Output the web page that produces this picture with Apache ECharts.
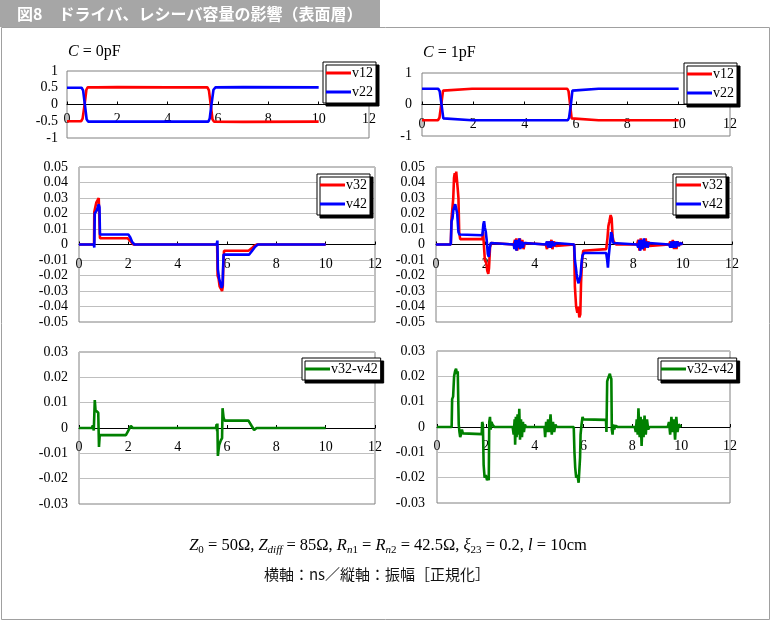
<!DOCTYPE html>
<html><head><meta charset="utf-8">
<script src="https://cdn.jsdelivr.net/npm/echarts@6/dist/echarts.min.js"></script>
<style>html,body{margin:0;padding:0;background:#fff}#c{width:774px;height:621px}</style>
</head><body><div id="c"></div>
<script>
// ---- data (time ns, normalized amplitude) ----
const xTicks = [0, 2, 4, 6, 8, 10, 12];
const c0_v12 = [[0,-0.5],[0.56,-0.5],[0.62,-0.42],[0.7,0],[0.77,0.44],[0.82,0.51],[1.2,0.51],[2,0.52],[4,0.51],[5.58,0.51],[5.64,0.42],[5.71,0],[5.78,-0.44],[5.84,-0.51],[7,-0.52],[10,-0.51]];
const c0_v22 = [[0,0.5],[0.58,0.5],[0.64,0.42],[0.71,0],[0.78,-0.44],[0.84,-0.51],[2,-0.51],[4,-0.51],[5.62,-0.51],[5.67,-0.42],[5.74,0],[5.82,0.44],[5.9,0.51],[7,0.52],[10,0.51]];
const c1_v12 = [[0,-0.5],[0.62,-0.5],[0.68,-0.42],[0.75,0],[0.82,0.44],[0.88,0.5],[1.95,0.5],[2.0,0.53],[2.08,0.5],[5.66,0.5],[5.71,0.42],[5.77,0],[5.83,-0.44],[5.88,-0.5],[6.88,-0.5],[6.95,-0.48],[7.02,-0.5],[10,-0.5]];
const c1_v22 = [[0,0.5],[0.63,0.5],[0.69,0.42],[0.76,0],[0.83,-0.44],[0.9,-0.5],[1.95,-0.5],[2.0,-0.47],[2.08,-0.5],[5.68,-0.5],[5.73,-0.42],[5.8,0],[5.86,0.44],[5.92,0.5],[6.88,0.5],[6.95,0.53],[7.02,0.5],[10,0.5]];

const c0_v32 = [[0,0],[0.61,0],[0.62,0.021],[0.66,0.024],[0.7,0.027],[0.74,0.028],[0.78,0.028],[0.8,0.03],[0.83,0.029],[0.85,0.004],[1.98,0.004],[2.05,0.003],[2.12,0.0015],[2.2,0],[5.6,0],[5.62,-0.02],[5.66,-0.022],[5.7,-0.027],[5.75,-0.028],[5.8,-0.03],[5.83,-0.027],[5.85,-0.013],[5.88,-0.004],[6.87,-0.004],[7.0,-0.0025],[7.1,-0.001],[7.2,0],[10,0]];
const c0_v42 = [[0,0],[0.6,0],[0.62,-0.002],[0.64,0.02],[0.68,0.021],[0.72,0.022],[0.76,0.024],[0.8,0.026],[0.83,0.024],[0.85,0.0065],[2.0,0.0065],[2.08,0.0045],[2.16,0.0015],[2.25,0],[5.58,0],[5.61,0.0025],[5.63,-0.016],[5.68,-0.022],[5.73,-0.025],[5.78,-0.028],[5.82,-0.026],[5.86,-0.0065],[6.9,-0.0065],[7.02,-0.004],[7.14,-0.0015],[7.25,0],[10,0]];
const c0_d = [[0,0],[0.52,0],[0.56,0.001],[0.6,-0.001],[0.64,0.011],[0.67,0.007],[0.72,0.0065],[0.78,0.006],[0.81,-0.0075],[0.84,-0.0028],[1.9,-0.0028],[2.0,-0.001],[2.1,0.0008],[2.18,0],[5.55,0],[5.58,0.0015],[5.6,-0.0012],[5.61,0.0018],[5.63,-0.011],[5.68,-0.0068],[5.75,-0.0049],[5.8,-0.004],[5.82,0.0078],[5.86,0.0042],[5.9,0.0029],[6.87,0.0029],[7.0,0.0008],[7.1,-0.0008],[7.2,0],[10,0]];

const c1_v32 = [[0,0],[0.6,0],[0.63,0.017],[0.67,0.018],[0.7,0.03],[0.73,0.043],[0.76,0.046],[0.79,0.04],[0.82,0.047],[0.85,0.046],[0.88,0.036],[0.91,0.03],[0.94,0.008],[0.98,0.0035],[1.88,0.0035],[1.91,0.008],[1.94,0.0],[1.98,-0.01],[2.04,-0.012],[2.08,-0.017],[2.12,-0.019],[2.15,-0.015],[2.19,-0.002],[2.23,0.001],[2.3,0],[3.15,0],[3.2,0.003],[3.23,-0.003],[3.26,0.004],[3.29,-0.004],[3.33,0.002],[3.36,-0.003],[3.4,0.004],[3.45,-0.002],[3.5,0.003],[3.55,-0.003],[3.6,0.001],[3.65,0],[4.45,0],[4.5,-0.003],[4.55,0.002],[4.62,-0.002],[4.68,0.003],[4.72,-0.003],[4.78,0.002],[4.85,-0.001],[4.92,0],[5.6,0],[5.63,-0.027],[5.68,-0.04],[5.73,-0.044],[5.77,-0.04],[5.81,-0.047],[5.85,-0.045],[5.88,-0.025],[5.92,-0.01],[5.97,-0.004],[6.0,-0.003],[6.9,-0.003],[6.95,0.004],[6.99,0.012],[7.03,0.015],[7.08,0.019],[7.12,0.017],[7.16,0.005],[7.2,0.002],[7.3,0],[8.15,0],[8.2,0.003],[8.25,-0.004],[8.3,0.004],[8.35,-0.003],[8.4,0.003],[8.45,-0.004],[8.5,0.004],[8.55,-0.002],[8.6,0.002],[8.65,-0.001],[8.7,0],[9.45,0],[9.5,0.002],[9.55,-0.002],[9.6,0.003],[9.65,-0.003],[9.7,0.002],[9.75,-0.003],[9.8,0.002],[9.85,-0.001],[9.9,0.001],[10,0]];
const c1_v42 = [[0,0],[0.6,0],[0.63,0.015],[0.67,0.017],[0.7,0.022],[0.74,0.024],[0.78,0.026],[0.82,0.025],[0.86,0.02],[0.88,0.015],[0.91,0.008],[0.95,0.0065],[1.0,0.006],[1.88,0.006],[1.92,0.013],[1.95,0.015],[1.98,0.011],[2.02,0.008],[2.06,0.002],[2.1,-0.006],[2.14,-0.008],[2.18,-0.002],[2.22,0.001],[2.3,0],[3.15,0],[3.18,-0.003],[3.22,0.003],[3.26,-0.004],[3.3,0.003],[3.34,-0.002],[3.38,0.004],[3.42,-0.003],[3.47,0.002],[3.52,-0.002],[3.57,0.001],[3.62,0],[4.45,0],[4.5,0.002],[4.55,-0.002],[4.6,0.002],[4.66,-0.002],[4.72,0.002],[4.78,-0.001],[4.85,0.001],[4.9,0],[5.6,0],[5.63,-0.01],[5.67,-0.015],[5.7,-0.019],[5.74,-0.023],[5.78,-0.025],[5.82,-0.024],[5.86,-0.02],[5.9,-0.012],[5.94,-0.007],[6.0,-0.0055],[6.9,-0.0055],[6.94,-0.01],[6.97,-0.015],[7.0,-0.008],[7.05,0],[7.1,0.008],[7.14,0.006],[7.18,0.001],[7.25,0],[8.15,0],[8.2,-0.002],[8.24,0.003],[8.28,-0.004],[8.33,0.003],[8.38,-0.003],[8.43,0.004],[8.48,-0.002],[8.53,0.002],[8.58,-0.002],[8.63,0.001],[8.7,0],[9.45,0],[9.5,-0.002],[9.55,0.002],[9.6,-0.002],[9.66,0.002],[9.72,-0.002],[9.78,0.002],[9.84,-0.001],[9.9,0.001],[10,0]];
const c1_d = [[0,0],[0.6,0],[0.62,0.011],[0.66,0.012],[0.7,0.02],[0.74,0.022],[0.78,0.023],[0.82,0.021],[0.85,0.022],[0.87,0.011],[0.89,0.001],[0.92,-0.002],[0.95,-0.004],[0.98,-0.003],[1.02,-0.001],[1.06,-0.0025],[1.1,-0.0028],[1.83,-0.0028],[1.85,0.002],[1.88,0.001],[1.91,-0.015],[1.95,-0.02],[2.0,-0.019],[2.05,-0.021],[2.1,-0.02],[2.12,-0.021],[2.14,0.002],[2.17,0.004],[2.2,-0.001],[2.23,0.002],[2.27,0.001],[2.35,0],[3.1,0],[3.14,-0.003],[3.18,0.003],[3.2,-0.007],[3.23,0.004],[3.26,-0.004],[3.3,0.005],[3.34,-0.003],[3.37,0.0072],[3.4,-0.005],[3.44,0.003],[3.48,-0.004],[3.52,0.002],[3.56,-0.002],[3.6,0.001],[3.65,0],[4.4,0],[4.43,-0.004],[4.47,0.002],[4.5,-0.002],[4.55,0.003],[4.6,-0.002],[4.65,0.005],[4.7,-0.003],[4.75,0.002],[4.8,-0.002],[4.85,0.001],[4.9,0],[5.6,0],[5.63,-0.01],[5.66,-0.016],[5.7,-0.02],[5.75,-0.019],[5.8,-0.022],[5.84,-0.022],[5.86,-0.012],[5.88,-0.003],[5.92,0.001],[5.96,0.004],[6.0,0.003],[6.05,0.0028],[6.92,0.0028],[6.94,-0.002],[6.97,0.018],[7.0,0.019],[7.04,0.02],[7.08,0.021],[7.1,0.02],[7.14,0.019],[7.16,-0.001],[7.19,-0.003],[7.22,0.001],[7.26,-0.001],[7.3,0.0005],[7.4,0],[8.1,0],[8.14,-0.002],[8.18,0.003],[8.22,-0.003],[8.25,0.0074],[8.3,-0.004],[8.34,0.004],[8.38,-0.0075],[8.42,0.003],[8.46,-0.004],[8.5,0.0045],[8.55,-0.003],[8.6,0.003],[8.65,-0.001],[8.7,0],[9.45,0],[9.5,0.002],[9.55,-0.003],[9.6,0.004],[9.65,-0.002],[9.7,0.003],[9.75,-0.005],[9.8,0.004],[9.85,-0.002],[9.9,0.001],[10,0]];

const headerText = '図8\u3000ドライバ、レシーバ容量の影響（表面層）';
const captionText = '横軸：ns／縦軸：振幅［正規化］';

// ---- layout ----
const SERIF = '"Liberation Serif","Times New Roman",serif';
const grids = [
  {left:67, top:71, width:302, height:67},
  {left:422, top:73, width:308, height:63},
  {left:79, top:167, width:296, height:155},
  {left:436, top:167, width:296, height:155},
  {left:79, top:352, width:296, height:152},
  {left:437, top:351, width:293, height:152}
];
const yCfg = [
  {min:-1,max:1,interval:0.5,grid:false,m:9},
  {min:-1,max:1,interval:1,grid:false,m:10},
  {min:-0.05,max:0.05,interval:0.01,grid:true,m:11},
  {min:-0.05,max:0.05,interval:0.01,grid:true,m:11},
  {min:-0.03,max:0.03,interval:0.01,grid:true,m:11},
  {min:-0.03,max:0.03,interval:0.01,grid:true,m:12}
];
// x labels sit just under the zero line (offsets measured from plot bottom)
const xMargins = [-26, -19, -65, -65, -64, -64];

const chart = echarts.init(document.getElementById('c'), null, {renderer:'canvas'});

function mkSeries(name, data, idx, color){
  return {type:'line', name, data, xAxisIndex:idx, yAxisIndex:idx, symbol:'none', showSymbol:false,
    lineStyle:{width:2.6, color}, itemStyle:{color}, animation:false, silent:true, z:3};
}
function mkLegend(names, left, top){
  return {show:true, data:names.map(n => ({name:n, icon:'rect'})), left, top, orient:'vertical', selectedMode:false,
    itemWidth:25, itemHeight:3, itemGap:5, padding:[4,3,4,3],
    backgroundColor:'#fff', borderColor:'#000', borderWidth:1,
    shadowColor:'#000', shadowOffsetX:3, shadowOffsetY:3, shadowBlur:0,
    textStyle:{fontFamily:SERIF, fontSize:14, color:'#000', padding:[0,0,0,-4]}};
}

const option = {
  animation:false,
  backgroundColor:'#fff',
  grid: grids.map(g => Object.assign({show:true, borderColor:'#808080', borderWidth:1, backgroundColor:'transparent'}, g)),
  xAxis: grids.map((g,i) => ({type:'value', gridIndex:i, min:xTicks[0], max:xTicks[xTicks.length-1], interval:2,
    axisLine:{show:true, onZero:true, lineStyle:{color:'#000', width:1}},
    axisTick:{show:true, inside:true, length:3, lineStyle:{color:'#000'}},
    axisLabel:{fontFamily:SERIF, fontSize:14, color:'#000', margin:xMargins[i], showMinLabel:true, showMaxLabel:true, hideOverlap:false},
    splitLine:{show:false}})),
  yAxis: yCfg.map((c,i) => ({type:'value', gridIndex:i, min:c.min, max:c.max, interval:c.interval,
    axisLine:{show:false}, axisTick:{show:false},
    axisLabel:{fontFamily:SERIF, fontSize:14, color:'#000', margin:c.m},
    splitLine:{show:c.grid, lineStyle:{color:'#bfbfbf', width:1}}})),
  legend: [
    mkLegend(['v12','v22'], 323, 62),
    mkLegend(['v12','v22'], 684, 63),
    mkLegend(['v32','v42'], 317, 174),
    mkLegend(['v32','v42'], 673, 174),
    mkLegend(['v32-v42'], 302, 358),
    mkLegend(['v32-v42'], 658, 358)
  ],
  series: [
    mkSeries('v12', c0_v12, 0, '#ff0000'),
    mkSeries('v22', c0_v22, 0, '#0000ff'),
    mkSeries('v12', c1_v12, 1, '#ff0000'),
    mkSeries('v22', c1_v22, 1, '#0000ff'),
    mkSeries('v32', c0_v32, 2, '#ff0000'),
    mkSeries('v42', c0_v42, 2, '#0000ff'),
    mkSeries('v32', c1_v32, 3, '#ff0000'),
    mkSeries('v42', c1_v42, 3, '#0000ff'),
    mkSeries('v32-v42', c0_d, 4, '#008000'),
    mkSeries('v32-v42', c1_d, 5, '#008000')
  ],
  graphic: [
    {type:'rect', shape:{x:1.5, y:27.5, width:768, height:592}, style:{fill:null, stroke:'#a0a0a0', lineWidth:1}, z:-1},
    {type:'rect', shape:{x:0, y:0, width:380, height:27}, style:{fill:'#a6a6a6'}},
    {type:'text', x:17, y:14, style:{text:headerText, fill:'#fff', fontFamily:'"Noto Sans CJK JP",sans-serif', fontWeight:'bold', fontSize:16, verticalAlign:'middle'}},
    {type:'text', x:68, y:52, style:{text:'{i|C}{n| = 0pF}', verticalAlign:'middle',
      rich:{i:{fontFamily:SERIF, fontStyle:'italic', fontSize:16, fill:'#000'}, n:{fontFamily:SERIF, fontSize:16, fill:'#000'}}}},
    {type:'text', x:423, y:53, style:{text:'{i|C}{n| = 1pF}', verticalAlign:'middle',
      rich:{i:{fontFamily:SERIF, fontStyle:'italic', fontSize:16, fill:'#000'}, n:{fontFamily:SERIF, fontSize:16, fill:'#000'}}}},
    {type:'text', x:388, y:546, style:{align:'center', verticalAlign:'middle',
      text:'{i|Z}{s|0}{n| = 50Ω, }{i|Z}{si|diff}{n| = 85Ω, }{i|R}{si|n}{s|1}{n| = }{i|R}{si|n}{s|2}{n| = 42.5Ω, }{i|ξ}{s|23}{n| = 0.2, }{i|l}{n| = 10cm}',
      rich:{
        i:{fontFamily:SERIF, fontStyle:'italic', fontSize:16.5, fill:'#000', lineHeight:17},
        n:{fontFamily:SERIF, fontSize:16.5, fill:'#000', lineHeight:17},
        s:{fontFamily:SERIF, fontSize:11, fill:'#000', verticalAlign:'bottom', padding:[9,0,0,0]},
        si:{fontFamily:SERIF, fontStyle:'italic', fontSize:11, fill:'#000', verticalAlign:'bottom', padding:[9,0,0,0]}
      }}},
    {type:'text', x:377, y:574, style:{text:captionText, align:'center', verticalAlign:'middle', fill:'#111', fontFamily:'"Noto Sans CJK JP",sans-serif', fontSize:15}}
  ]
};
chart.setOption(option);
</script>
</body></html>
